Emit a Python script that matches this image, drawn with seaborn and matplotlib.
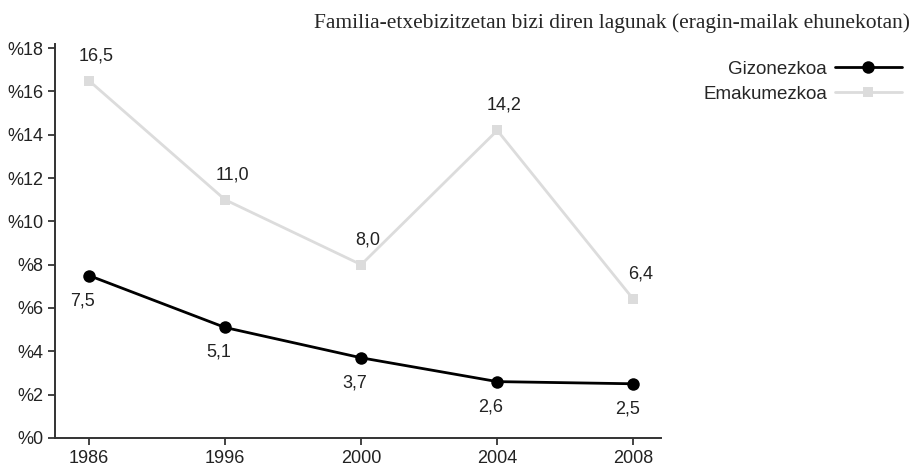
import pandas as pd
import matplotlib
matplotlib.use("Agg")
from matplotlib import pyplot as plt
import seaborn as sns

years = ["1986", "1996", "2000", "2004", "2008"]
gizonezkoa = [7.5, 5.1, 3.7, 2.6, 2.5]
emakumezkoa = [16.5, 11.0, 8.0, 14.2, 6.4]
series_names = ["Gizonezkoa", "Emakumezkoa"]
title = "Familia-etxebizitzetan bizi diren lagunak (eragin-mailak ehunekotan)"

sns.set_style("ticks")
plt.rcParams["font.family"] = ["Liberation Sans", "DejaVu Sans"]

df = pd.DataFrame({
    "urtea": years * 2,
    "balioa": gizonezkoa + emakumezkoa,
    "sexua": [series_names[0]] * 5 + [series_names[1]] * 5,
})

fig = plt.figure(figsize=(9.15, 4.76), dpi=100)
ax = fig.add_axes([0.060, 0.080, 0.662, 0.828])

palette = {"Gizonezkoa": "#000000", "Emakumezkoa": "#dcdcdc"}
sns.lineplot(ax=ax, data=df, x="urtea", y="balioa", hue="sexua", style="sexua",
             palette=palette, markers={"Gizonezkoa": "o", "Emakumezkoa": "s"},
             dashes=False, sort=False, linewidth=2, markersize=9,
             markeredgewidth=0, hue_order=series_names[::-1], style_order=series_names[::-1])
for line in ax.get_lines():
    if line.get_marker() == "s":
        line.set_markersize(7)

# value labels (offsets in points)
for i, v in enumerate(gizonezkoa):
    ax.annotate(f"{v:.1f}".replace(".", ","), (i, v), xytext=(-4.5, -18),
                textcoords="offset points", ha="center", va="center",
                fontsize=13, color="#222222")
for i, v in enumerate(emakumezkoa):
    ax.annotate(f"{v:.1f}".replace(".", ","), (i, v), xytext=(5, 18),
                textcoords="offset points", ha="center", va="center",
                fontsize=13, color="#222222")

ax.set_xlim(-0.25, 4.2)
ax.set_ylim(0, 18.2)
ax.set_yticks(range(0, 19, 2))
ax.set_yticklabels([f"%{t}" for t in range(0, 19, 2)])
ax.set_xlabel("")
ax.set_ylabel("")
ax.tick_params(labelsize=13, colors="#222222", length=5, width=1.2)
for s in ["left", "bottom"]:
    ax.spines[s].set_color("#333333")
    ax.spines[s].set_linewidth(1.4)
sns.despine(ax=ax)

handles, labels = ax.get_legend_handles_labels()
order = [labels.index(n) for n in series_names]
ax.legend([handles[k] for k in order], [labels[k] for k in order],
          loc="upper right", bbox_to_anchor=(0.986, 0.872), bbox_transform=fig.transFigure,
          markerfirst=False, frameon=False, fontsize=13.5, handlelength=3.6,
          handletextpad=0.4, labelspacing=0.4, borderaxespad=0, borderpad=0)

fig.text(0.994, 0.952, title, ha="right", va="center", fontsize=15.5,
         family="Liberation Serif")

fig.savefig("out.png", dpi=100)
